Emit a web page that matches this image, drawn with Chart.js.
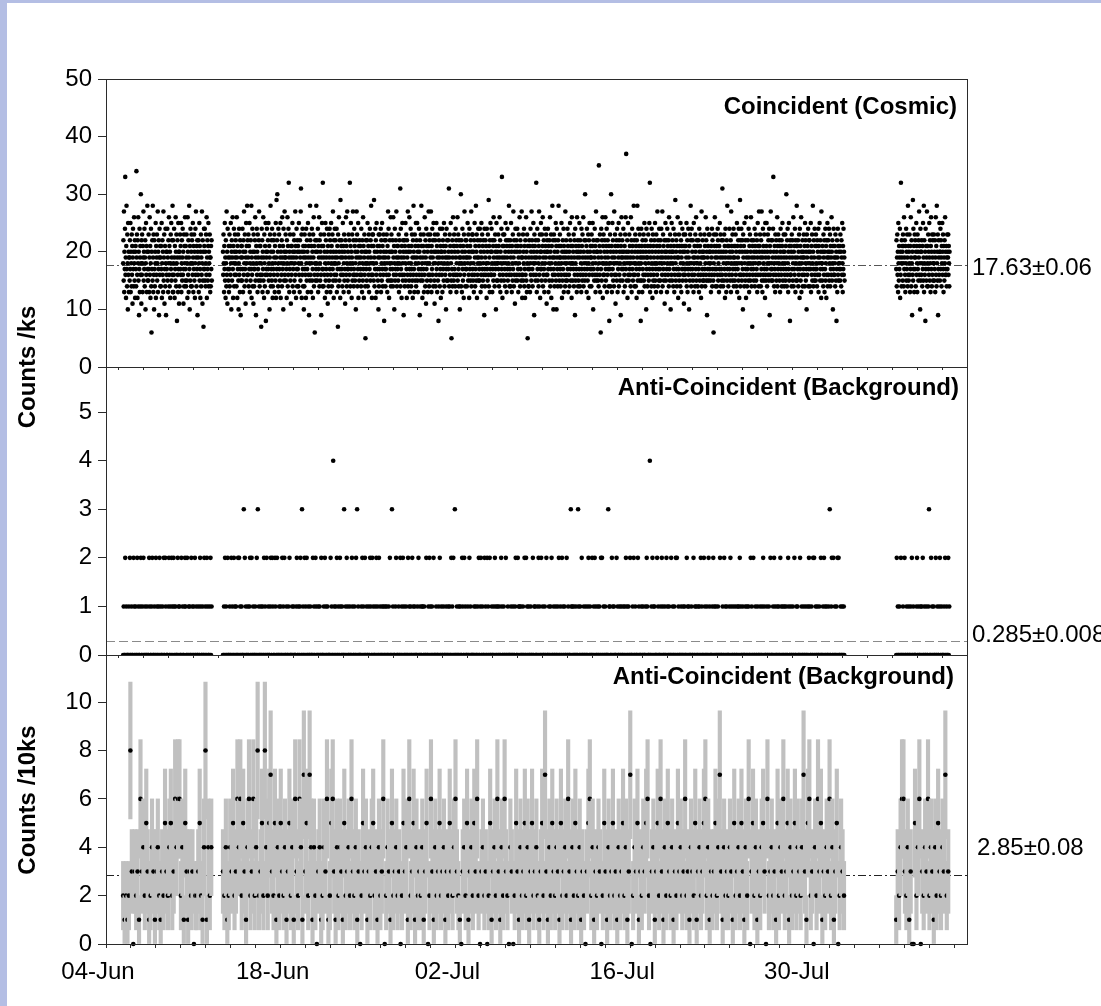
<!DOCTYPE html>
<html>
<head>
<meta charset="utf-8">
<script src="https://cdn.jsdelivr.net/npm/chart.js@4.4.1/dist/chart.umd.min.js"></script>
<style>
  html, body { margin: 0; padding: 0; background: #b4bee4; overflow: hidden; }
  #page { position: absolute; left: 7px; top: 3px; width: 1094px; height: 1003px; background: #fff; }
  canvas { position: absolute; left: 0; top: 0; }
</style>
</head>
<body>
<div id="page"></div>
<canvas id="cosmic" width="1101" height="1006"></canvas>
<canvas id="bg" width="1101" height="1006"></canvas>
<canvas id="bg10" width="1101" height="1006"></canvas>
<script>
// x axis: days after 04-Jun
const dateLabels = ["04-Jun", "18-Jun", "02-Jul", "16-Jul", "30-Jul"];
const cosmicTicks = [0, 10, 20, 30, 40, 50];
const bgTicks = [0, 1, 2, 3, 4, 5];
const bg10Ticks = [0, 2, 4, 6, 8, 10];

// start of each observing run (days after 04-Jun)
const runStart = [1.375, 9.375, 63.33];
const STEP_HALF_HOUR = 1 / 48;
const STEP_HOUR = 1 / 24;
const STEP_10KS = 10000 / 86400;

// mean rates
const meanCosmic = 17.63, errCosmic = 0.06;
const meanBg = 0.285, errBg = 0.008;
const meanBg10 = 2.85, errBg10 = 0.08;

// coincident counts per ks, 48 half-hour samples per day (two lines per day)
const cosmicA = [
  18,22,15,27,13,20,17,24,33,16,19,12,21,28,17,14,23,18,10,25,16,20,13,19,
  19,15,22,17,25,13,20,18,14,23,16,21,11,19,24,17,20,14,26,18,15,22,12,20,
  21,17,14,34,19,23,16,12,22,18,26,15,20,9,17,24,13,19,21,16,30,18,11,22,
  16,23,18,13,21,19,27,15,20,17,24,14,19,22,10,18,25,16,21,13,20,28,17,15,
  15,20,23,17,13,19,26,16,21,12,18,24,14,6,20,17,22,15,28,19,13,23,16,10,
  22,17,14,20,18,25,12,21,16,19,23,15,18,27,13,20,17,22,9,19,24,16,21,14,
  19,14,21,17,25,12,18,22,16,20,13,27,15,19,23,11,17,21,14,24,18,9,20,16,
  17,20,24,15,19,13,22,18,26,16,21,14,20,12,18,23,17,25,15,19,22,16,28,13,
  22,13,18,16,24,19,12,21,17,15,26,20,14,23,18,8,19,22,16,13,25,17,20,11,
  20,14,19,23,17,21,16,25,13,18,22,15,19,24,16,20,11,17,23,14,21,18,26,15,
  17,21,14,19,23,15,18,12,26,20,16,22,13,19,28,17,10,21,15,24,18,14,20,23,
  14,22,18,16,25,19,13,21,17,23,15,20,12,18,24,16,27,19,14,21,17,22,9,20,
  16,19,22,13,18,25,15,21,17,12,20,23,14,19,16,27,18,11,22,15,20,7,17,24,
  21,17,24,15,20,14,18,23,16,26,12,19,22,17,15,21,25,14,20,18,16,23,19,13,
  19,14,21,17,22,15
];
const cosmicB = [
  20,16,23,18,13,21,17,25,15,19,12,22,18,14,27,16,20,11,24,17,19,15,21,13,
  17,23,14,19,21,16,25,18,10,20,22,15,19,26,17,12,21,18,24,14,20,16,23,19,
  18,22,16,20,14,26,19,12,21,17,23,15,10,18,24,16,20,13,22,17,9,19,15,21,
  21,15,19,24,17,13,20,22,16,27,18,14,23,17,20,11,19,25,15,21,18,28,16,22,
  16,19,23,14,21,17,25,13,18,20,15,22,17,28,12,19,16,24,14,20,18,11,23,17,
  14,20,17,22,26,15,19,9,21,18,24,16,20,13,23,17,19,15,22,27,18,14,21,16,
  21,15,18,7,19,24,16,22,13,20,17,26,15,19,12,23,18,14,21,16,25,8,20,17,
  19,24,16,20,13,22,17,25,15,18,21,10,19,23,16,28,14,20,17,22,15,24,18,12,
  14,20,17,22,16,19,23,13,21,18,15,25,12,19,29,17,22,30,16,20,14,24,18,13,
  23,17,21,15,19,25,12,20,18,16,22,14,26,19,17,21,10,24,18,15,20,27,16,19,
  19,23,15,20,17,12,22,18,26,14,21,16,24,32,19,13,20,17,23,15,18,11,21,19,
  16,21,18,25,14,20,17,23,19,13,22,15,20,18,27,16,21,12,19,24,17,14,22,20,
  17,21,14,18,25,16,20,13,22,19,15,27,31,18,23,12,20,16,24,17,14,21,19,10,
  20,14,23,17,21,16,19,12,24,18,15,22,17,20,13,25,19,16,21,9,18,23,15,28,
  22,16,19,13,21,18,24,15,20,17,12,23,19,26,14,21,16,6,18,22,15,20,17,28,
  18,22,15,20,16,24,13,21,17,19,26,14,22,18,15,20,23,16,9,19,21,25,17,14,
  32,17,21,14,19,23,16,20,12,18,25,15,22,17,19,13,24,20,16,11,21,18,14,23,
  15,19,24,17,22,13,20,16,25,18,21,14,19,23,17,27,15,20,12,22,18,16,24,19,
  18,22,15,20,16,24,13,19,21,17,7,23,14,18,26,20,15,22,17,12,29,19,16,21,
  22,17,20,14,19,25,16,21,13,18,23,15,20,17,11,22,19,26,16,21,14,18,27,17,
  15,20,17,23,13,19,22,16,32,18,14,21,25,17,20,12,19,23,15,18,27,16,22,14,
  17,24,16,21,15,20,18,10,22,19,27,16,23,14,20,17,25,12,19,21,15,22,18,16,
  21,17,19,14,24,16,20,13,22,18,15,26,17,21,12,19,23,16,20,14,5,18,22,17,
  20,15,22,18,25,14,19,21,16,23,13,20,17,24,18,15,22,19,28,16,21,12,18,23,
  16,23,18,21,15,29,19,14,20,17,24,12,22,18,16,25,13,20,17,21,15,19,10,23,
  14,21,17,23,19,16,20,24,13,22,18,15,25,17,21,14,19,16,23,20,8,18,22,17,
  19,14,22,17,20,16,23,18,13,21,15,27,19,24,16,12,20,18,22,15,17,26,14,20,
  23,18,15,20,17,22,14,26,19,16,21,10,18,24,15,20,17,22,16,27,19,14,21,18,
  17,21,15,19,23,13,18,22,16,20,31,14,24,17,19,12,21,16,25,18,15,22,20,9,
  19,16,22,14,21,18,25,15,20,23,17,12,22,19,16,27,14,20,18,21,15,26,17,13,
  20,16,24,18,14,21,17,23,15,19,12,22,16,28,20,17,13,19,23,15,21,18,25,14,
  16,22,19,25,15,20,13,21,18,17,24,16,20,9,22,19,15,23,17,28,21,16,18,12,
  15,19,21,17,23,13,20,16,26,18,14,22,19,11,24,17,21,15,18,20,13,23,16,27,
  21,14,18,22,16,23,19,15,27,20,13,21,17,24,16,19,22,14,25,18,20,15,11,23,
  22,18,14,20,16,25,17,21,13,19,23,15,20,8,18,22,16,19,14,24,17,21,12,20,
  18,20,16,24,13,19,22,17,21,15,25,18,14,20,23,16,19,21,10,17,24,15,22,19,
  18,15,22,17,20,31,14,19,23,16,21,13,25,18,15,5,20,17,22,14,19,26,16,21,
  15,23,21,17,20,14,16,24,19,22,13,18,21,16,26,15,20,23,17,14,22,19,18,10,
  16,21,19,30,14,22,18,13,20,24,17,15,21,19,12,23,16,27,18,20,14,22,17,19,
  22,17,14,21,19,25,18,15,23,16,20,12,24,19,17,21,15,22,18,27,14,20,16,23,
  23,17,15,20,18,13,22,16,25,19,14,21,17,28,15,20,23,12,19,16,22,18,24,15,
  19,21,17,15,24,18,22,13,20,16,25,19,14,23,17,21,15,18,22,16,20,9,24,17,
  14,19,22,16,21,18,12,24,17,20,15,23,18,16,29,14,21,19,13,22,17,25,20,16,
  16,24,20,18,13,22,17,21,15,26,19,16,22,14,18,23,20,17,10,21,25,15,19,18,
  20,15,18,23,17,21,14,19,26,16,22,13,20,18,15,24,17,33,19,12,21,16,23,18,
  21,15,23,19,17,14,20,25,18,22,16,13,21,19,24,17,15,22,18,20,28,16,14,21,
  17,22,14,19,25,16,20,13,21,18,15,23,17,27,19,14,22,16,20,11,18,24,15,21,
  18,22,16,20,24,15,21,17,13,19,23,18,16,26,20,14,22,17,21,15,19,27,16,12,
  19,16,23,15,20,18,24,14,21,17,12,22,16,19,26,15,20,13,23,18,5,21,17,14,
  14,19,22,17,21,13,18,24,16,20,15,27,19,22,17,14,21,18,25,16,20,9,23,19,
  21,18,15,22,16,32,19,13,20,24,17,15,22,18,14,21,27,16,19,23,12,20,17,25,
  20,17,15,23,18,21,26,14,19,16,22,17,13,20,24,18,15,21,19,23,16,11,20,22,
  16,20,24,17,13,21,18,15,22,19,26,14,20,17,23,12,18,21,15,28,19,16,22,10,
  17,23,19,14,20,16,22,18,25,15,21,10,24,19,17,20,14,22,16,28,18,21,15,19,
  23,17,19,14,21,16,25,18,12,20,15,22,17,19,24,13,21,16,20,18,14,27,19,15,
  22,16,20,18,15,24,17,21,13,19,23,16,20,14,18,25,22,17,15,21,19,12,26,18,
  18,21,15,20,17,23,14,19,22,16,9,24,18,15,21,17,20,13,26,19,16,22,14,20,
  15,21,17,25,19,14,22,16,20,18,13,24,17,21,15,23,19,16,26,14,20,18,22,17,
  15,30,19,22,16,18,21,13,24,17,20,15,19,23,12,18,22,16,25,14,20,17,21,19,
  19,14,23,17,21,16,25,18,10,22,17,20,15,19,24,16,21,13,18,27,15,22,20,16,
  20,17,22,15,19,14,35,18,21,16,23,13,20,6,17,24,19,15,22,18,26,12,21,16,
  23,18,16,20,14,22,19,26,17,15,21,18,24,13,20,16,22,19,17,25,14,21,8,18,
  17,23,14,20,18,30,16,21,13,19,25,17,22,15,20,18,14,27,19,16,23,21,11,18,
  16,20,22,15,24,18,13,21,17,19,25,14,22,16,20,18,15,23,9,21,19,26,17,20,
  22,15,19,17,24,13,20,18,16,21,14,23,19,26,17,37,20,15,18,22,12,19,25,16,
  20,15,18,23,17,21,16,19,14,26,18,22,13,20,24,17,21,15,19,16,28,18,22,14,
  16,20,23,18,14,21,17,12,22,19,28,15,20,16,24,18,13,21,17,23,15,19,20,8,
  18,24,15,21,19,13,22,17,20,16,23,15,19,25,14,21,18,16,22,20,10,24,17,19,
  19,14,21,16,23,18,15,20,25,17,32,13,21,19,16,22,14,24,18,20,12,17,23,15,
  21,16,19,14,22,18,25,15,20,17,13,23,18,21,16,27,19,14,22,17,20,15,24,18,
  21,17,15,22,19,13,24,18,20,16,27,14,19,23,17,21,15,18,22,11,20,16,25,19,
  15,22,20,17,13,24,18,21,16,19,22,14,26,17,20,15,23,18,10,21,19,16,25,20,
  15,22,18,20,14,24,17,21,13,19,16,23,29,18,15,20,22,17,14,21,19,26,16,12,
  19,17,23,15,21,16,20,14,25,18,22,13,19,21,17,24,15,20,18,16,23,11,21,17,
  20,16,23,17,21,15,19,25,14,18,22,13,20,17,24,16,19,10,21,18,15,23,17,28,
  22,14,18,24,16,20,17,22,15,19,13,25,18,16,21,19,14,23,20,17,26,15,18,22,
  18,21,14,19,16,22,17,13,24,20,15,21,18,23,16,12,19,27,14,20,17,22,15,19,
  16,20,15,19,23,17,21,14,18,26,16,22,15,20,9,24,19,17,21,15,18,23,16,20,
  23,17,20,15,18,13,21,19,16,24,14,22,17,20,15,6,18,23,16,21,26,17,19,14,
  20,23,17,21,14,19,16,24,22,15,18,20,13,21,17,25,16,19,23,14,20,17,22,15,
  16,31,19,22,14,20,18,15,23,17,21,12,19,24,16,20,13,18,22,15,28,17,21,19,
  14,18,21,16,24,17,20,15,19,22,13,27,18,21,16,20,23,15,17,19,24,14,21,18,
  19,15,21,17,23,16,20,14,18,25,13,21,17,19,22,15,24,18,12,20,16,29,14,22,
  21,16,24,18,15,20,22,17,10,23,19,16,21,14,25,18,20,15,22,17,12,26,19,16,
  14,20,17,22,18,15,24,19,13,21,16,23,18,15,20,26,17,14,22,19,7,21,16,18,
  17,22,15,20,19,24,14,21,18,16,23,15,20,17,22,13,19,25,16,21,18,14,27,20,
  21,18,23,16,19,14,22,17,27,15,20,13,19,24,16,21,18,15,23,17,20,12,25,16,
  19,15,21,25,17,14,20,18,23,16,22,19,15,24,18,9,21,16,20,27,17,22,15,18,
  17,22,15,19,24,33,16,20,14,18,21,17,13,23,19,16,22,15,20,18,26,14,21,17,
  23,19,16,18,22,15,21,13,20,24,17,19,16,22,14,21,25,18,15,20,17,23,19,14,
  20,16,18,23,15,21,17,30,19,14,22,16,24,18,13,20,17,25,15,21,19,8,22,16,
  16,21,20,14,23,17,19,22,15,18,26,14,20,17,21,16,24,19,13,22,18,15,21,28,
  15,21,19,17,22,14,20,16,23,18,12,24,17,21,15,19,26,13,20,18,16,22,14,19,
  20,17,23,19,16,21,14,25,18,22,15,20,17,10,23,19,16,21,18,24,14,20,17,22,
  22,18,14,20,17,25,13,19,21,16,23,15,18,28,20,14,17,22,19,15,24,16,21,17,
  15,23,18,21,17,14,22,16,20,19,24,13,21,18,16,25,19,15,22,17,20,12,27,18,
  18,15,21,17,20,14,23,19,16,22,13,20,17,24,15,18,21,12,22,16,19,25,14,20,
  22,16,19,24,15,20,18,23,14,21,17,19,16,26,20,15,22,18,10,21,17,24,16,19,
  16,21,18,14,23,19,15,20,8,17,22,13,19,24,16,21,15,18,20,17,
  18,21,15,23,17,20,14,22,19,16,25,18,13,21,17,24,16,20,19,15
];
const cosmicC = [
  17,22,14,19,23,16,20,13,25,18,15,21,17,19,24,12,20,16,32,18,14,22,19,21,
  20,15,23,18,21,14,26,17,19,22,16,13,21,18,24,15,20,17,23,19,14,28,16,21,
  15,20,18,23,16,13,21,17,26,19,14,22,18,9,20,16,29,15,24,17,21,13,19,23,
  17,22,19,14,20,25,16,21,18,13,23,17,20,15,22,19,27,16,21,18,10,24,15,20,
  20,16,22,18,14,21,17,25,15,19,28,13,22,18,16,20,8,24,17,21,15,19,27,14,
  21,18,14,23,17,20,16,25,19,15,22,18,13,21,26,17,20,14,23,16,19,22,15,18,
  18,23,15,20,17,22,13,19,26,16,21,14,28,18,20,15,23,9,17,22,19,16,25,20,
  15,20,24,17,22,19,14,21,18,25,16,20,23,17,13,21,19,15,22,18,26,16,20,17,
  16,21,14,19,23,17,20,19,23,16,21,18,14,20
];

// anti-coincident counts per ks, hourly samples, one character per bin, one row per day
const bgA = [
  "010020100001020010002100",
  "100201000120010200100010",
  "002100012000100201001020",
  "100010200210000120010201",
  "021001000201100020100012",
  "100200101002010010200100",
  "010021000100201002100010",
  "201"
];
const bgB = [
  "001020100200010020100201",
  "010002020100100030201000",
  "100120020010001002030100",
  "010010020100200100012002",
  "100021002000100100201020",
  "001000102000010010000120",
  "010012003010020102001000",
  "100002010021000100100200",
  "001020100100000201004010",
  "010200100210010003001020",
  "100010002100010020301000",
  "001020100200100010021002",
  "010001020100201000100100",
  "100100010200030100001200",
  "001002001020100010002010",
  "010020100100001020010001",
  "100100020001020100100200",
  "001000010200100010000100",
  "010010020102003000100010",
  "100021002010000100201000",
  "000100100010200120010002",
  "010020100200010001020100",
  "100100021000100020001000",
  "001000100012000201100100",
  "010020020100100010002001",
  "100001020100200100010020",
  "000100102000100010001020",
  "010020100100020010000310",
  "100100010003100100200010",
  "001000120010002001020100",
  "010010020200100100000301",
  "100020101000020100010010",
  "001001020100100200001020",
  "010000201000010010000102",
  "100004001020101000020100",
  "001020100010020100100020",
  "010010020200100001000100",
  "100020101000010002001010",
  "001010020100020100010020",
  "100001020100100010002000",
  "010020100100001020100010",
  "001000101020100010000100",
  "100100020100200010001000",
  "010001020100001000100200",
  "001020100010010020100100",
  "100100021000100010020001",
  "010000200100010001000102",
  "100010020200100100010020",
  "001020100100010300120020",
  "01001020200010010010"
];
const bgC = [
  "020100100200010020001000",
  "100010200100000120010001",
  "010200100010001300020100",
  "100020010001200100001020",
  "0100201"
];

// anti-coincident counts per 10 ks
const bg10A = [
  2,1,2,1,2,8,3,0,3,2, 3,1,6,3,4,2,5,3,1,2, 4,3,1,3,4,2,1,3,2,5,
  3,2,4,5,2,3,6,4,6,6, 2,4,1,5,3,1,3,2,3,0, 2,2,3,5,2,1,4,8,1,4,
  2,4
];
const bg10B = [
  3,2,4,1,2,4,3,5,2,3, 6,4,6,2,5,3,1,4,6,2, 3,6,2,4,8,2,3,5,2,8,
  4,2,5,7,3,2,5,1,4,2, 5,3,2,4,1,3,5,2,4,1, 6,3,2,6,4,1,7,3,5,2,
  7,4,1,4,2,0,3,4,1,2, 4,3,6,1,2,5,6,3,1,4,
  2,4,3,1,5,2,3,4,2,6, 3,2,4,1,3,0,2,5,3,4, 1,3,2,4,5,2,3,1,4,2,
  3,6,0,2,4,3,1,5,2,3, 4,2,3,0,2,5,3,4,1,6, 2,3,5,1,4,2,3,2,4,1,
  3,5,0,2,6,3,1,4,2,3, 5,2,3,4,1,3,2,5,3,2, 4,6,3,2,1,0,3,4,2,5,
  1,3,4,2,5,3,6,2,0,3, 4,2,3,0,2,5,1,3,4,2, 6,3,1,4,2,6,3,2,0,4,
  3,0,2,5,3,1,4,2,3,5, 2,4,1,3,5,2,3,4,2,1, 3,5,2,7,3,1,4,2,5,3,
  2,4,3,1,5,2,3,4,2,6, 3,1,4,2,5,3,2,4,1,3, 2,0,3,5,6,2,4,1,3,2,
  4,3,0,2,5,3,1,4,2,3, 5,2,3,1,4,2,3,5,2,4, 1,3,7,0,2,4,3,5,1,3,
  2,4,3,5,6,2,0,3,4,1, 3,5,2,6,3,1,4,2,5,3, 2,4,1,3,2,5,3,4,2,3,
  6,2,3,1,4,3,2,5,1,3, 4,2,3,5,6,2,4,1,3,2, 3,5,2,4,7,3,1,4,2,3,
  2,4,3,1,5,2,3,4,2,5, 3,1,4,2,6,0,3,5,2,4, 1,3,2,4,5,3,0,6,2,3,
  4,2,3,1,5,2,4,3,6,2, 3,5,1,4,2,3,5,2,4,3, 2,4,7,3,1,5,6,2,3,0,
  4,2,6,3,5,1,3,2,4,3, 6,2,4,1,3,5,0,2,4,3, 2
];
const bg10C = [
  1,3,2,4,6,6,3,2,4,1, 3,0,0,5,2,4,6,0,3,2, 4,3,6,2,4,3,1,4,2,5,
  3,2,4,3,7,2,3
];

const FONT = "'Liberation Sans', Arial, sans-serif";
const AXIS = "#2b2b2b";
Chart.defaults.font.family = FONT;
Chart.defaults.font.size = 24;
Chart.defaults.color = "#000";

const toCounts = rows => rows.join("").split("").map(Number);

const runs = [
  { start: runStart[0], cosmic: cosmicA, bg: toCounts(bgA), bg10: bg10A },
  { start: runStart[1], cosmic: cosmicB, bg: toCounts(bgB), bg10: bg10B },
  { start: runStart[2], cosmic: cosmicC, bg: toCounts(bgC), bg10: bg10C },
];

const cosmicPts = [], bgPts = [], bg10Pts = [], bg10Err = [];
runs.forEach(r => {
  r.cosmic.forEach((v, i) => cosmicPts.push({ x: r.start + i * STEP_HALF_HOUR, y: v }));
  r.bg.forEach((v, i) => bgPts.push({ x: r.start + i * STEP_HOUR, y: v }));
  r.bg10.forEach((v, i) => {
    const x = r.start + i * STEP_10KS;
    const e = Math.sqrt(v); // poisson error
    bg10Pts.push({ x, y: v });
    bg10Err.push({ x, y: [Math.max(0, v - e), v + e] });
  });
});

const evenDays = Array.from({ length: 35 }, (_, i) => 2 * i);
const oddDays = Array.from({ length: 34 }, (_, i) => 2 * i + 1);

// frame, mean line, panel caption and mean label
const panelDecor = {
  id: "panelDecor",
  beforeDatasetsDraw(chart, args, o) {
    const ctx = chart.ctx, a = chart.chartArea;
    const y = Math.round(chart.scales.y.getPixelForValue(o.mean)) + 0.5;
    ctx.save();
    ctx.strokeStyle = o.lineColor;
    ctx.lineWidth = 1;
    ctx.setLineDash(o.dash);
    ctx.beginPath();
    ctx.moveTo(a.left, y);
    ctx.lineTo(a.right, y);
    ctx.stroke();
    ctx.restore();
  },
  afterDraw(chart, args, o) {
    const ctx = chart.ctx, a = chart.chartArea;
    ctx.save();
    ctx.strokeStyle = AXIS;
    ctx.lineWidth = 1;
    ctx.strokeRect(Math.round(a.left) + 0.5, Math.round(a.top) + 0.5,
      Math.round(a.right - a.left), Math.round(a.bottom - a.top));
    ctx.fillStyle = "#000";
    ctx.textBaseline = "middle";
    ctx.font = "bold 24px " + FONT;
    ctx.textAlign = "right";
    ctx.fillText(o.caption, o.captionX, o.captionY);
    ctx.font = "24px " + FONT;
    ctx.textAlign = "left";
    ctx.fillText(o.mean.toFixed(o.digits) + "\u00b1" + o.err.toFixed(o.digits), o.labelX, o.labelY);
    if (o.axisTitles) {
      ctx.font = "bold 24px " + FONT;
      ctx.textAlign = "center";
      o.axisTitles.forEach(t => {
        ctx.save();
        ctx.translate(t.x, t.y);
        ctx.rotate(-Math.PI / 2);
        ctx.fillText(t.text, 0, 0);
        ctx.restore();
      });
    }
    ctx.restore();
  }
};

// error bar of each bin drawn before its marker, so later bars overlap earlier markers
const interleave = {
  id: "interleave",
  beforeDatasetsDraw(chart) {
    const bars = chart.getDatasetMeta(0).data;
    const dots = chart.getDatasetMeta(1).data;
    const ctx = chart.ctx, a = chart.chartArea;
    ctx.save();
    for (let i = 0; i < dots.length; i++) {
      if (bars[i]) bars[i].draw(ctx);
      dots[i].draw(ctx, a);
    }
    ctx.restore();
    return false;
  }
};

function yAxis(max, ticks) {
  return {
    type: "linear",
    min: 0,
    max: max,
    afterBuildTicks: s => { s.ticks = ticks.map(v => ({ value: v })); },
    afterFit: s => { s.width = 106; },
    ticks: { padding: 6, autoSkip: false, color: "#000" },
    grid: { drawOnChartArea: false, drawTicks: true, tickLength: 8, color: AXIS },
    border: { display: true, color: AXIS }
  };
}

function xAxis(days, height, labelled) {
  return {
    type: "linear",
    min: 0,
    max: 69,
    offset: false,
    afterBuildTicks: s => { s.ticks = days.map(v => ({ value: v })); },
    afterFit: s => { s.height = height; },
    ticks: {
      autoSkip: false,
      maxRotation: 0,
      padding: 10,
      labelOffset: -8,
      color: "#000",
      callback: v => (labelled && v % 14 === 0) ? dateLabels[v / 14] : ""
    },
    grid: { offset: false, drawOnChartArea: false, drawTicks: true, tickLength: labelled ? 4 : 3, color: AXIS },
    border: { display: true, color: AXIS }
  };
}

function baseOptions(panelTop, panelBottom, xHeight) {
  return {
    responsive: false,
    animation: false,
    events: [],
    layout: { padding: { left: 0, right: 1101 - 967, top: panelTop, bottom: 1006 - panelBottom - xHeight } },
  };
}

const dotStyle = { pointRadius: 2.3, pointBackgroundColor: "#000", pointBorderWidth: 0, showLine: false };

new Chart(document.getElementById("cosmic"), {
  type: "scatter",
  data: { datasets: [{ label: "Coincident", data: cosmicPts, ...dotStyle }] },
  options: {
    ...baseOptions(79, 367, 4),
    scales: { x: xAxis(oddDays, 4, false), y: yAxis(50, cosmicTicks) },
    plugins: {
      legend: { display: false }, tooltip: { enabled: false },
      panelDecor: {
        mean: meanCosmic, err: errCosmic, digits: 2, dash: [8, 3, 2, 3], lineColor: "#555",
        caption: "Coincident (Cosmic)", captionX: 957, captionY: 107,
        labelX: 972, labelY: 268
      }
    }
  },
  plugins: [panelDecor]
});

new Chart(document.getElementById("bg"), {
  type: "scatter",
  data: { datasets: [{ label: "Anti-Coincident", data: bgPts, clip: 0, ...dotStyle }] },
  options: {
    ...baseOptions(367, 655, 4),
    scales: { x: xAxis(oddDays, 4, false), y: yAxis(5.93, bgTicks) },
    plugins: {
      legend: { display: false }, tooltip: { enabled: false },
      panelDecor: {
        mean: meanBg, err: errBg, digits: 3, dash: [9, 4], lineColor: "#8a8a8a",
        caption: "Anti-Coincident (Background)", captionX: 959, captionY: 388,
        labelX: 972, labelY: 635
      }
    }
  },
  plugins: [panelDecor]
});

new Chart(document.getElementById("bg10"), {
  type: "scatter",
  data: {
    datasets: [
      { type: "bar", label: "error", data: bg10Err, backgroundColor: "#c0c0c0", borderWidth: 0, barThickness: 3.5, grouped: false },
      { type: "scatter", label: "Anti-Coincident /10ks", data: bg10Pts, ...dotStyle }
    ]
  },
  options: {
    ...baseOptions(655, 944, 58),
    scales: { x: xAxis(evenDays, 58, true), y: yAxis(11.95, bg10Ticks) },
    plugins: {
      legend: { display: false }, tooltip: { enabled: false },
      panelDecor: {
        mean: meanBg10, err: errBg10, digits: 2, dash: [8, 3, 2, 3], lineColor: "#222",
        caption: "Anti-Coincident (Background)", captionX: 954, captionY: 677,
        labelX: 977, labelY: 848,
        axisTitles: [
          { text: "Counts /ks", x: 28, y: 367 },
          { text: "Counts /10ks", x: 28, y: 800 }
        ]
      }
    }
  },
  plugins: [panelDecor, interleave]
});
</script>
</body>
</html>
